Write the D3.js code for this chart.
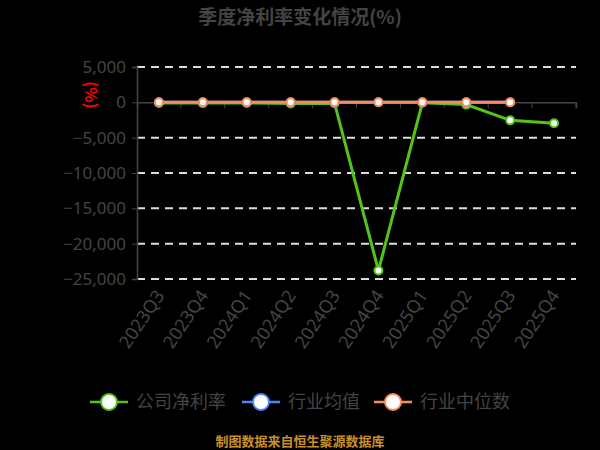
<!DOCTYPE html>
<html>
<head>
<meta charset="utf-8">
<script src="https://cdn.jsdelivr.net/npm/d3@7"></script>
<style>
  html, body { margin: 0; padding: 0; background: #000; }
  svg { display: block; font-family: "Noto Sans CJK SC", "Noto Sans", sans-serif; }
</style>
</head>
<body>
<script>
// quarters on the x axis
const quarters = ["2023Q3", "2023Q4", "2024Q1", "2024Q2", "2024Q3", "2024Q4", "2025Q1", "2025Q2", "2025Q3", "2025Q4"];
// company net margin (%)
const companyRate = [-80, -110, -90, -160, -120, -23800, -60, -320, -2550, -2970];
// industry mean (%) - sits under the median line
const industryMean = [6, 9, 7, 5, 6, 4, 7, 5, 3, null];
// industry median (%)
const industryMedian = [5, 8, 6, 4, 5, 3, 6, 4, 2, null];
const yTicks = [5000, 0, -5000, -10000, -15000, -20000, -25000];

const series = [
  {name: "公司净利率", values: companyRate, color: "#52c41a"},
  {name: "行业均值", values: industryMean, color: "#4f86f7"},
  {name: "行业中位数", values: industryMedian, color: "#fa8c5c"}
];

const W = 600, H = 450;
const margin = {top: 67, right: 24, bottom: 171, left: 137};
const width = W - margin.left - margin.right,
      height = H - margin.top - margin.bottom;

const svg = d3.select("body").append("svg")
  .attr("width", W).attr("height", H);

svg.append("text")
  .attr("x", 300).attr("y", 24)
  .attr("text-anchor", "middle")
  .attr("font-size", 19).attr("font-weight", "bold")
  .attr("fill", "#444")
  .text("季度净利率变化情况(%)");

const g = svg.append("g")
  .attr("transform", "translate(" + margin.left + "," + margin.top + ")");

const x = d3.scaleBand().domain(quarters).range([0, width]);
const y = d3.scaleLinear().domain([5000, -25000]).range([0, height]);

// dashed grid
g.append("g").selectAll("line")
  .data(yTicks.filter(d => d !== 0))
  .enter().append("line")
  .attr("x1", 0).attr("x2", width)
  .attr("y1", d => y(d)).attr("y2", d => y(d))
  .attr("stroke", "#ddd").attr("stroke-width", 2)
  .attr("stroke-dasharray", "8,6");

// y axis
const yAxis = g.append("g")
  .call(d3.axisLeft(y).tickValues(yTicks).tickSize(5).tickPadding(6)
    .tickFormat(d3.format(",")));
yAxis.select(".domain").attr("stroke", "#444").attr("stroke-width", 1.5);
yAxis.selectAll(".tick line").attr("stroke", "#444");
yAxis.selectAll("text").attr("fill", "#444").attr("font-size", 17)
  .attr("font-family", "'Noto Sans', sans-serif");

// x axis at zero
const xAxis = g.append("g")
  .attr("transform", "translate(0," + y(0) + ")")
  .call(d3.axisBottom(x).tickSize(6).tickFormat(""));
xAxis.select(".domain").attr("stroke", "#444").attr("stroke-width", 1.5);
xAxis.selectAll(".tick line").attr("stroke", "#444")
  .attr("transform", "translate(" + x.bandwidth() / 2 + ",0)");

// category labels below the plot
g.append("g").selectAll("text")
  .data(quarters)
  .enter().append("text")
  .attr("transform", d => "translate(" + (x(d) + x.bandwidth() / 2 + 1) + "," + (height + 13) + ") rotate(-56)")
  .attr("text-anchor", "end")
  .attr("dy", "0.35em")
  .attr("font-size", 18)
  .attr("font-family", "'Noto Sans', sans-serif")
  .attr("fill", "#444")
  .text(d => d);

// axis name
svg.append("text")
  .attr("transform", "translate(91,95) rotate(90)")
  .attr("text-anchor", "middle")
  .attr("dy", "0.35em")
  .attr("font-size", 16)
  .attr("font-weight", "bold")
  .attr("fill", "#ff0000")
  .text("(%)");

const line = d3.line()
  .defined(d => d != null)
  .x((d, i) => x(quarters[i]) + x.bandwidth() / 2)
  .y(d => y(d));

series.forEach(s => {
  g.append("path")
    .datum(s.values)
    .attr("fill", "none")
    .attr("stroke", s.color)
    .attr("stroke-width", 3)
    .attr("d", line);
});

series.forEach(s => {
  g.append("g").selectAll("circle")
    .data(s.values.map((v, i) => ({v: v, q: quarters[i]})).filter(d => d.v != null))
    .enter().append("circle")
    .attr("cx", d => x(d.q) + x.bandwidth() / 2)
    .attr("cy", d => y(d.v))
    .attr("r", 4)
    .attr("fill", "#fff")
    .attr("stroke", s.color)
    .attr("stroke-width", 2);
});

// legend
const legendX = [90, 242, 374];
const legend = svg.append("g").selectAll("g")
  .data(series)
  .enter().append("g")
  .attr("transform", (d, i) => "translate(" + legendX[i] + ",402)");
legend.append("line")
  .attr("x1", 0).attr("x2", 38)
  .attr("stroke", d => d.color).attr("stroke-width", 2.5);
legend.append("circle")
  .attr("cx", 19).attr("r", 8)
  .attr("fill", "#fff")
  .attr("stroke", d => d.color).attr("stroke-width", 2);
legend.append("text")
  .attr("x", 46).attr("dy", "0.35em")
  .attr("font-size", 18)
  .attr("fill", "#444")
  .text(d => d.name);

svg.append("text")
  .attr("x", 300).attr("y", 446)
  .attr("text-anchor", "middle")
  .attr("font-size", 13).attr("font-weight", "bold")
  .attr("fill", "#c8902a")
  .text("制图数据来自恒生聚源数据库");
</script>
</body>
</html>
